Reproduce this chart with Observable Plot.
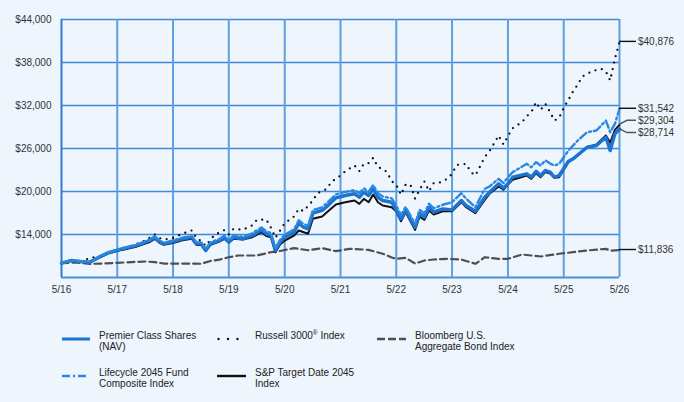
<!DOCTYPE html>
<html>
<head>
<meta charset="utf-8">
<script src="https://cdn.jsdelivr.net/npm/d3@7"></script>
<script src="https://cdn.jsdelivr.net/npm/@observablehq/plot@0.6"></script>
<style>
  html, body { margin: 0; padding: 0; background: #EEF5FD; }
  body { width: 684px; height: 402px; overflow: hidden; position: relative;
         font-family: Arial, "Liberation Sans", sans-serif; color: #222; }
  #chart { position: absolute; left: 0; top: 0; }
  .sw { position: absolute; }
  .lt { position: absolute; font-size: 10px; line-height: 11px; color: #222; white-space: nowrap; }
  sup { font-size: 6.5px; vertical-align: 4px; line-height: 0; }
</style>
</head>
<body>
<div id="chart"></div>
<div id="legend"></div>
<script>
// ---------- data ----------
const xTickDates = ["2016-05","2017-05","2018-05","2019-05","2020-05","2021-05","2022-05","2023-05","2024-05","2025-05","2026-05"];
const xTickLabels = ["5/16","5/17","5/18","5/19","5/20","5/21","5/22","5/23","5/24","5/25","5/26"];
const yTicks = [14000, 20000, 26000, 32000, 38000, 44000];
const yTickLabels = ["$14,000","$20,000","$26,000","$32,000","$38,000","$44,000"];

const seriesNames = ["Premier Class Shares (NAV)", "Russell 3000® Index", "Bloomberg U.S. Aggregate Bond Index", "Lifecycle 2045 Fund Composite Index", "S&P Target Date 2045 Index"];
const endValues = [28714, 40876, 11836, 31542, 29304];
const endLabels = ["$28,714", "$40,876", "$11,836", "$31,542", "$29,304"];

const fund = [["2016-05",10000],["2016-07",10370],["2016-09",10230],["2016-11",10130],["2017-01",10830],["2017-03",11440],["2017-06",12000],["2017-09",12460],["2017-11",12930],["2017-12",13160],["2018-01",13620],["2018-02",13020],["2018-03",12700],["2018-05",13020],["2018-07",13400],["2018-09",13620],["2018-10",12700],["2018-11",12700],["2018-12",11770],["2019-01",12700],["2019-03",13160],["2019-04",13620],["2019-05",12930],["2019-06",13620],["2019-08",13390],["2019-10",13860],["2019-12",14650],["2020-01",14100],["2020-02",13860],["2020-03",11770],["2020-04",12930],["2020-05",13620],["2020-07",14320],["2020-08",15580],["2020-09",15020],["2020-10",14790],["2020-11",16970],["2021-01",17350],["2021-02",17910],["2021-04",19120],["2021-06",19440],["2021-08",19680],["2021-09",19200],["2021-10",19900],["2021-11",19440],["2021-12",20370],["2022-01",19200],["2022-02",18740],["2022-04",18500],["2022-05",17350],["2022-06",16190],["2022-07",17350],["2022-09",15020],["2022-10",16970],["2022-11",16420],["2022-12",17810],["2023-01",17110],["2023-03",17580],["2023-05",17440],["2023-07",18740],["2023-08",18040],["2023-10",17250],["2023-12",19200],["2024-01",19900],["2024-03",21070],["2024-04",20500],["2024-05",21100],["2024-06",22000],["2024-09",22470],["2024-10",22000],["2024-11",22830],["2024-12",22230],["2025-01",22930],["2025-02",22700],["2025-03",22000],["2025-04",22230],["2025-06",24230],["2025-07",24560],["2025-10",26180],["2025-12",26420],["2026-02",27580],["2026-03",25720],["2026-04",28040],["2026-05",28714]];

const sp2045 = [["2016-05",10000],["2016-07",10330],["2016-09",10180],["2016-11",10080],["2017-01",10750],["2017-03",11330],["2017-06",11850],["2017-09",12300],["2017-11",12750],["2017-12",12950],["2018-01",13400],["2018-02",12850],["2018-03",12550],["2018-05",12800],["2018-07",13200],["2018-09",13400],["2018-10",12550],["2018-11",12550],["2018-12",11700],["2019-01",12550],["2019-03",13000],["2019-04",13400],["2019-05",12900],["2019-06",13390],["2019-08",13300],["2019-10",13620],["2019-12",14320],["2020-01",13800],["2020-02",13620],["2020-03",11530],["2020-04",12600],["2020-05",13160],["2020-07",13860],["2020-08",14560],["2020-10",14100],["2020-11",16190],["2021-01",16510],["2021-02",17110],["2021-04",18180],["2021-06",18500],["2021-08",18740],["2021-09",18280],["2021-10",18980],["2021-11",18500],["2021-12",19580],["2022-01",18500],["2022-02",18040],["2022-04",17810],["2022-05",17200],["2022-06",15850],["2022-07",17110],["2022-09",14650],["2022-10",16510],["2022-11",16050],["2022-12",17350],["2023-01",16790],["2023-03",17250],["2023-05",17250],["2023-07",18510],["2023-08",17810],["2023-10",16970],["2023-12",18840],["2024-01",19680],["2024-03",20700],["2024-04",20240],["2024-05",20980],["2024-06",21630],["2024-09",22230],["2024-10",21770],["2024-11",22560],["2024-12",22000],["2025-01",22700],["2025-02",22500],["2025-03",21900],["2025-04",22000],["2025-06",24090],["2025-07",24500],["2025-10",26180],["2025-12",26560],["2026-02",27810],["2026-03",26800],["2026-04",28600],["2026-05",29304]];

const composite = [["2016-05",10000],["2016-07",10390],["2016-09",10260],["2016-11",10180],["2017-01",10880],["2017-03",11500],["2017-06",12080],["2017-09",12560],["2017-11",13050],["2017-12",13280],["2018-01",13750],["2018-02",13150],["2018-03",12850],["2018-05",13170],["2018-07",13560],["2018-09",13780],["2018-10",12900],["2018-11",12900],["2018-12",12000],["2019-01",12900],["2019-03",13380],["2019-04",13840],["2019-05",13180],["2019-06",13880],["2019-08",13680],["2019-10",14170],["2019-12",14980],["2020-01",14450],["2020-02",14200],["2020-03",12100],["2020-04",13270],["2020-05",13980],["2020-07",14700],["2020-08",15980],["2020-09",15450],["2020-10",15230],["2020-11",17400],["2021-01",17800],["2021-02",18380],["2021-04",19600],["2021-06",19950],["2021-08",20200],["2021-09",19750],["2021-10",20450],["2021-11",19980],["2021-12",20900],["2022-01",19750],["2022-02",19300],["2022-04",19050],["2022-05",18040],["2022-06",16700],["2022-07",17850],["2022-09",15490],["2022-10",17450],["2022-11",16950],["2022-12",18300],["2023-01",17650],["2023-03",18150],["2023-05",18510],["2023-07",19760],["2023-08",19000],["2023-10",17810],["2023-12",20370],["2024-01",20700],["2024-03",21770],["2024-04",21160],["2024-05",22000],["2024-06",22700],["2024-09",23860],["2024-10",23390],["2024-11",24090],["2024-12",23630],["2025-01",24330],["2025-02",23900],["2025-03",23630],["2025-04",23860],["2025-06",25720],["2025-08",27120],["2025-10",28270],["2025-12",28510],["2026-02",29900],["2026-03",28270],["2026-04",29430],["2026-05",31542]];

const russell = [["2016-05",10000],["2016-07",10300],["2016-09",10200],["2016-11",10700],["2017-01",10950],["2017-03",11440],["2017-05",11800],["2017-07",12200],["2017-09",12650],["2017-11",13150],["2018-01",14000],["2018-02",13500],["2018-03",13300],["2018-05",13500],["2018-07",14100],["2018-09",14560],["2018-10",13490],["2018-11",13070],["2018-12",12400],["2019-01",13300],["2019-02",14000],["2019-04",14600],["2019-05",14000],["2019-06",14790],["2019-08",14650],["2019-10",15260],["2019-11",16050],["2020-01",16090],["2020-02",14930],["2020-03",13540],["2020-04",14560],["2020-05",15580],["2020-07",16510],["2020-08",17580],["2020-09",17250],["2020-11",18740],["2020-12",19760],["2021-02",20370],["2021-03",21300],["2021-05",22230],["2021-06",22830],["2021-08",23630],["2021-09",22830],["2021-10",23860],["2021-11",23950],["2021-12",24700],["2022-01",23390],["2022-02",23170],["2022-03",22700],["2022-04",21440],["2022-05",20940],["2022-06",19540],["2022-07",20940],["2022-08",20980],["2022-09",19000],["2022-10",20240],["2022-11",21400],["2022-12",20040],["2023-01",21160],["2023-02",21160],["2023-04",21770],["2023-05",22470],["2023-06",23700],["2023-08",23860],["2023-09",22700],["2023-10",22230],["2023-11",23530],["2023-12",24790],["2024-01",25620],["2024-02",26740],["2024-03",27810],["2024-04",26560],["2024-05",27710],["2024-06",28830],["2024-08",29670],["2024-09",30500],["2024-10",31060],["2024-11",32460],["2024-12",31400],["2025-01",32240],["2025-02",31060],["2025-03",29900],["2025-04",30280],["2025-05",31680],["2025-06",32790],["2025-07",33950],["2025-08",34930],["2025-09",36050],["2025-11",36780],["2026-01",37120],["2026-02",36750],["2026-03",35490],["2026-04",38500],["2026-05",40876]];

const bond = [["2016-05",10000],["2016-08",10100],["2016-11",9900],["2017-02",9950],["2017-05",10050],["2017-08",10150],["2017-11",10230],["2018-01",10150],["2018-03",9950],["2018-05",9950],["2018-08",9950],["2018-11",9920],["2019-01",10300],["2019-03",10500],["2019-05",10830],["2019-07",11070],["2019-09",11070],["2019-11",11070],["2020-02",11530],["2020-04",11700],["2020-07",12090],["2020-10",11800],["2021-01",12090],["2021-04",11670],["2021-07",12000],["2021-11",11860],["2022-02",11310],["2022-04",10800],["2022-05",10610],["2022-07",10750],["2022-09",9950],["2022-11",10370],["2023-01",10510],["2023-04",10610],["2023-07",10510],["2023-10",9910],["2023-12",10830],["2024-03",10610],["2024-05",10610],["2024-08",11210],["2024-12",10930],["2025-04",11310],["2025-07",11530],["2025-10",11770],["2026-02",12000],["2026-03",11750],["2026-05",11836]];

// ---------- build ----------
const parse = d3.utcParse("%Y-%m");
const rows = (pairs) => pairs.map(([d, v]) => ({date: parse(d), value: v}));
const xLabelMap = new Map(xTickDates.map((d, i) => [+parse(d), xTickLabels[i]]));
const yLabelMap = new Map(yTicks.map((v, i) => [v, yTickLabels[i]]));
const xTicks = xTickDates.map(parse);
const innerYears = xTicks.slice(1);

const C_FUND = "#1C74D0", C_COMP = "#2C88DF", C_GRID_V = "#5E9FE2", C_GRID_H = "#3D89DA";

const plot = Plot.plot({
  width: 684,
  height: 300,
  marginLeft: 61,
  marginRight: 65,
  marginTop: 19,
  marginBottom: 23,
  style: {background: "transparent", fontFamily: "Arial, 'Liberation Sans', sans-serif", fontSize: "10px", color: "#333", overflow: "visible"},
  x: {type: "utc", domain: [xTicks[0], xTicks[xTicks.length - 1]], ticks: xTicks,
      tickFormat: d => xLabelMap.get(+d), tickSize: 0, tickPadding: 8, label: null},
  y: {domain: [8000, 44000], ticks: yTicks, tickFormat: v => yLabelMap.get(v),
      tickSize: 0, tickPadding: 10, label: null},
  marks: [
    Plot.ruleY(yTicks, {stroke: C_GRID_H, strokeWidth: 1.5}),
    Plot.ruleY([8000], {stroke: "#4A8FDA", strokeWidth: 2}),
    Plot.ruleX(innerYears, {stroke: C_GRID_V, strokeWidth: 2}),
    Plot.ruleX([xTicks[0]], {stroke: "#2F7CD2", strokeWidth: 2}),
    Plot.line(rows(bond), {x: "date", y: "value", stroke: "#4F4F4F", strokeWidth: 2.2, strokeDasharray: "7,4"}),
    Plot.line(rows(russell), {x: "date", y: "value", stroke: "#111", strokeWidth: 2.3, strokeDasharray: "0,6.6", strokeLinecap: "round"}),
    Plot.line(rows(sp2045), {x: "date", y: "value", stroke: "#111", strokeWidth: 2}),
    Plot.line(rows(fund), {x: "date", y: "value", stroke: C_FUND, strokeWidth: 3.4}),
    Plot.line(rows(composite), {x: "date", y: "value", stroke: C_COMP, strokeWidth: 2.4, strokeDasharray: "8,3,2,3"})
  ]
});
document.getElementById("chart").appendChild(plot);

// end-value leaders and labels, positioned through Plot's own scales
const xs = plot.scale("x"), ys = plot.scale("y");
const svg = d3.select(plot);
const xEnd = xs.apply(xTicks[xTicks.length - 1]);
const labelShift = {"$29,304": -4, "$28,714": 4};
const g = svg.append("g").attr("text-anchor", "start");
endValues.forEach((v, i) => {
  const lab = endLabels[i];
  const y0 = ys.apply(v);
  const y1 = y0 + (labelShift[lab] || 0);
  const grey = lab === "$29,304" || lab === "$28,714";
  g.append("path")
    .attr("d", `M${xEnd},${y0}L${xEnd + 8},${y1}L${xEnd + 17},${y1}`)
    .attr("fill", "none").attr("stroke", grey ? "#555" : "#111").attr("stroke-width", 1.4);
  g.append("text").attr("x", xEnd + 19).attr("y", y1).attr("dy", "0.35em")
    .attr("text-anchor", "start")
    .attr("font-size", 10).attr("fill", "#333").text(lab);
});

// ---------- legend ----------
const legend = document.getElementById("legend");
const items = [
  {left: 61, top: 335, textLeft: 99, lines: ["Premier Class Shares", "(NAV)"], sw: `<line x1="1" x2="29" y1="5" y2="5" stroke="${C_FUND}" stroke-width="3"/>`},
  {left: 216, top: 335, textLeft: 255, lines: ["Russell 3000<sup>®</sup> Index"], sw: `<line x1="2.5" x2="25" y1="5" y2="5" stroke="#111" stroke-width="2.4" stroke-linecap="round" stroke-dasharray="0,9.5"/>`},
  {left: 376, top: 335, textLeft: 415, lines: ["Bloomberg U.S.", "Aggregate Bond Index"], sw: `<line x1="1" x2="30" y1="5" y2="5" stroke="#4F4F4F" stroke-width="2.4" stroke-dasharray="8,3"/>`},
  {left: 61, top: 372, textLeft: 99, lines: ["Lifecycle 2045 Fund", "Composite Index"], sw: `<line x1="1" x2="28" y1="5" y2="5" stroke="${C_COMP}" stroke-width="2.6" stroke-dasharray="8,3,2,3"/>`},
  {left: 216, top: 372, textLeft: 255, lines: ["S&amp;P Target Date 2045", "Index"], sw: `<line x1="1" x2="30" y1="5" y2="5" stroke="#111" stroke-width="2.4"/>`}
];
items.forEach(it => {
  const s = document.createElement("div");
  s.className = "sw";
  s.style.left = it.left + "px";
  s.style.top = (it.top - 5) + "px";
  s.innerHTML = `<svg width="32" height="10">${it.sw}</svg>`;
  legend.appendChild(s);
  const t = document.createElement("div");
  t.className = "lt";
  t.style.left = it.textLeft + "px";
  t.style.top = (it.top + 1 - 6) + "px";
  t.innerHTML = it.lines.join("<br>");
  legend.appendChild(t);
});
</script>
</body>
</html>
